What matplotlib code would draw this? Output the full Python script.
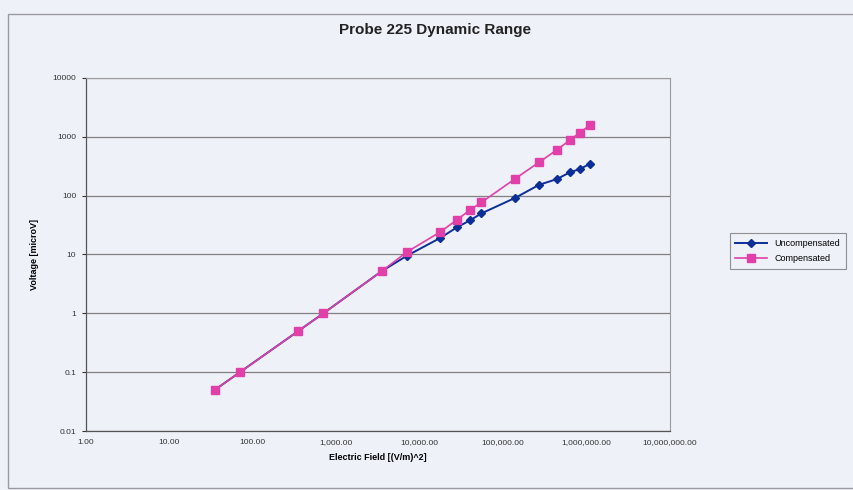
import numpy as np
import matplotlib.pyplot as plt
from matplotlib.patches import Rectangle
from matplotlib.ticker import FixedLocator, FixedFormatter, NullLocator

plt.rcParams['font.family'] = ['Liberation Sans', 'DejaVu Sans']

# electric field [(V/m)^2] and measured voltage [microV]
field = [35, 70, 350, 700, 3500, 7000, 17500, 28000, 40000, 55000,
         140000, 270000, 440000, 630000, 830000, 1100000]
uncompensated = [0.05, 0.1, 0.5, 1.0, 5.2, 9.5, 19, 29, 38, 50,
                 92, 153, 191, 249, 284, 347]
compensated = [0.05, 0.1, 0.5, 1.0, 5.2, 11, 24, 39, 57, 77,
               195, 370, 600, 880, 1180, 1580]

xticks = [1, 10, 100, 1e3, 1e4, 1e5, 1e6, 1e7]
xlabels = ["1.00", "10.00", "100.00", "1,000.00", "10,000.00",
           "100,000.00", "1,000,000.00", "10,000,000.00"]
yticks = [0.01, 0.1, 1, 10, 100, 1000, 10000]
ylabels = ["0.01", "0.1", "1", "10", "100", "1000", "10000"]

BG = "#eff1f9"
fig = plt.figure(figsize=(8.54, 4.9), dpi=100, facecolor=BG)
ax = fig.add_axes([86/854, 1-431/490, (670-86)/854, (431-78)/490])
ax.set_facecolor(BG)

# outer chart frame
fig.patches.append(Rectangle((8/854, 2/490), 850/854, 474/490, transform=fig.transFigure,
                             fill=False, edgecolor="#9a9aa0", linewidth=1.0))

ax.plot(field, uncompensated, color="#0b2f96", marker="D", markersize=4.5,
        linewidth=1.4, label="Uncompensated", zorder=3)
ax.plot(field, compensated, color="#e040a8", marker="s", markersize=5.5,
        linewidth=1.2, label="Compensated", zorder=4)

ax.set_xscale("log")
ax.set_yscale("log")
ax.set_xlim(1, 1e7)
ax.set_ylim(0.01, 10000)

ax.xaxis.set_major_locator(FixedLocator(xticks))
ax.xaxis.set_major_formatter(FixedFormatter(xlabels))
ax.xaxis.set_minor_locator(NullLocator())
ax.yaxis.set_major_locator(FixedLocator(yticks))
ax.yaxis.set_major_formatter(FixedFormatter(ylabels))
ax.yaxis.set_minor_locator(NullLocator())

ax.tick_params(axis="x", length=0, labelsize=6, colors="#333333", pad=6)
ax.tick_params(axis="y", length=3, direction="out", labelsize=6, colors="#333333", pad=4)

ax.grid(axis="y", color="#808080", linewidth=0.9)
for side in ["top", "right"]:
    ax.spines[side].set_color("#9a9a9a")
    ax.spines[side].set_linewidth(0.8)
for side in ["left", "bottom"]:
    ax.spines[side].set_color("#555555")
    ax.spines[side].set_linewidth(0.9)

ax.set_xlabel("Electric Field [(V/m)^2]", fontsize=6.5, fontweight="bold", labelpad=5)
ax.set_ylabel("Voltage [microV]", fontsize=6.5, fontweight="bold", labelpad=10)
fig.text(435/854, 1-30/490, "Probe 225 Dynamic Range", ha="center", va="center",
         fontsize=11, fontweight="bold", color="#222222")

leg = ax.legend(loc="center left", bbox_to_anchor=(725/854, 1-251/490),
                bbox_transform=fig.transFigure, fontsize=6.5, frameon=True,
                fancybox=False, edgecolor="#777777", facecolor=BG,
                handlelength=3.6, borderpad=0.6, labelspacing=0.7)
leg.get_frame().set_linewidth(0.8)

fig.savefig("out.png", dpi=100, facecolor=BG)
